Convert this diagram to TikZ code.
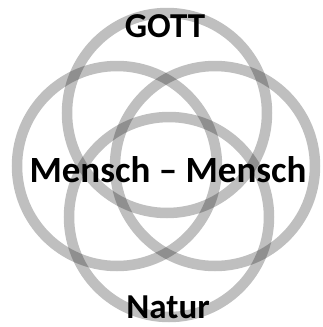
\documentclass[tikz,border=0pt]{standalone}
\usepackage{fontspec}
\setmainfont{Carlito}
\usetikzlibrary{shapes.geometric,positioning,calc}

\begin{document}
\begin{tikzpicture}[
  x=1pt, y=-1pt,
  ring/.style={draw=black, draw opacity=0.25, line width=10.5pt, circle, minimum size=200pt, inner sep=0pt},
  lbl/.style={font=\fontsize{35}{38}\selectfont\bfseries, inner sep=0pt, anchor=base}
]
\useasboundingbox (0,0) rectangle (322,327);

% four overlapping rings -- top, left, right, bottom
\node[ring] (rTop)   at (167,113) {};
\node[ring] (rLeft)  at (117,166) {};
\node[ring] (rRight) at (215,166) {};
\node[ring] (rBot)   at (169,217) {};

% labels on top of the rings
\node[lbl] (gott)   at (165,37)  {GOTT};
\node[lbl, font=\fontsize{37}{40}\selectfont\bfseries] (mensch) at (168,182) {Mensch -- Mensch};
\node[lbl] (natur)  at (168,318) {Natur};
\end{tikzpicture}
\end{document}
